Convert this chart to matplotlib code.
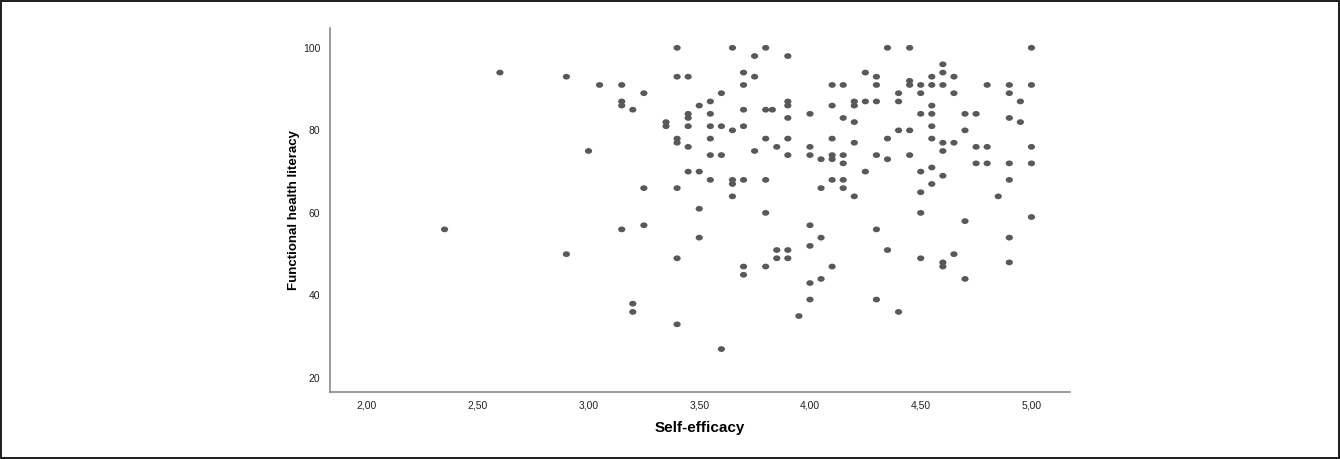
import matplotlib
matplotlib.use("Agg")
import matplotlib.pyplot as plt
from matplotlib.path import Path

plt.rcParams['font.family'] = ['Liberation Sans', 'DejaVu Sans']

self_efficacy = [
    2.35, 2.60, 2.90, 2.90, 3.00, 3.05, 3.15, 3.15, 3.15, 3.15,
    3.20, 3.20, 3.20, 3.25, 3.25, 3.25, 3.35, 3.35, 3.40, 3.40,
    3.40, 3.40, 3.40, 3.40, 3.40, 3.45, 3.45, 3.45, 3.45, 3.45,
    3.45, 3.50, 3.50, 3.50, 3.50, 3.55, 3.55, 3.55, 3.55, 3.55,
    3.55, 3.60, 3.60, 3.60, 3.60, 3.65, 3.65, 3.65, 3.65, 3.65,
    3.70, 3.70, 3.70, 3.70, 3.70, 3.70, 3.70, 3.75, 3.75, 3.75,
    3.80, 3.80, 3.80, 3.80, 3.80, 3.80, 3.83, 3.85, 3.85, 3.85,
    3.90, 3.90, 3.90, 3.90, 3.90, 3.90, 3.90, 3.90, 3.95, 4.00,
    4.00, 4.00, 4.00, 4.00, 4.00, 4.00, 4.05, 4.05, 4.05, 4.05,
    4.10, 4.10, 4.10, 4.10, 4.10, 4.10, 4.10, 4.15, 4.15, 4.15,
    4.15, 4.15, 4.15, 4.20, 4.20, 4.20, 4.20, 4.20, 4.25, 4.25,
    4.25, 4.30, 4.30, 4.30, 4.30, 4.30, 4.30, 4.35, 4.35, 4.35,
    4.35, 4.40, 4.40, 4.40, 4.40, 4.45, 4.45, 4.45, 4.45, 4.45,
    4.50, 4.50, 4.50, 4.50, 4.50, 4.50, 4.50, 4.55, 4.55, 4.55,
    4.55, 4.55, 4.55, 4.55, 4.55, 4.60, 4.60, 4.60, 4.60, 4.60,
    4.60, 4.60, 4.60, 4.65, 4.65, 4.65, 4.65, 4.70, 4.70, 4.70,
    4.70, 4.75, 4.75, 4.75, 4.80, 4.80, 4.80, 4.85, 4.90, 4.90,
    4.90, 4.90, 4.90, 4.90, 4.90, 4.95, 4.95, 5.00, 5.00, 5.00,
    5.00, 5.00,
]
health_literacy = [
    56, 94, 93, 50, 75, 91, 91, 87, 86, 56,
    85, 38, 36, 89, 66, 57, 82, 81, 100, 93,
    78, 77, 66, 49, 33, 93, 84, 83, 81, 76,
    70, 86, 70, 61, 54, 87, 84, 81, 78, 74,
    68, 89, 81, 74, 27, 100, 80, 68, 67, 64,
    94, 91, 85, 81, 68, 47, 45, 98, 93, 75,
    100, 85, 78, 68, 60, 47, 85, 76, 51, 49,
    98, 87, 86, 83, 78, 74, 51, 49, 35, 84,
    76, 74, 57, 52, 43, 39, 73, 66, 54, 44,
    91, 86, 78, 74, 73, 68, 47, 91, 83, 74,
    72, 68, 66, 87, 86, 82, 77, 64, 94, 87,
    70, 93, 91, 87, 74, 56, 39, 100, 78, 73,
    51, 89, 87, 80, 36, 100, 92, 91, 80, 74,
    91, 89, 84, 70, 65, 60, 49, 93, 91, 86,
    84, 81, 78, 71, 67, 96, 94, 91, 77, 75,
    69, 48, 47, 93, 89, 77, 50, 84, 80, 58,
    44, 84, 76, 72, 91, 76, 72, 64, 91, 89,
    83, 72, 68, 54, 48, 87, 82, 100, 91, 76,
    72, 59,
]

x_ticks = [2.0, 2.5, 3.0, 3.5, 4.0, 4.5, 5.0]
x_labels = ["2,00", "2,50", "3,00", "3,50", "4,00", "4,50", "5,00"]
y_ticks = [20, 40, 60, 80, 100]

# the original picture is a little stretched sideways, so the dots are flat ellipses
circle = Path.unit_circle()
ellipse = Path(circle.vertices * [1.0, 0.8], circle.codes)

fig = plt.figure(figsize=(13.4, 4.59), dpi=100)
fig.patch.set_edgecolor('#222222')
fig.patch.set_linewidth(1.5)
ax = fig.add_axes([0.2463, 0.146, 0.5522, 0.793])

ax.scatter(self_efficacy, health_literacy, s=27, marker=ellipse,
           color='#595959', edgecolors='none', zorder=3)

ax.set_xlim(1.833, 5.174)
ax.set_ylim(16.6, 104.8)
ax.set_xticks(x_ticks)
ax.set_xticklabels(x_labels)
ax.set_yticks(y_ticks)
ax.tick_params(length=0, labelsize=7.5, colors='#222222')
ax.tick_params(axis='x', pad=6)
ax.tick_params(axis='y', pad=7)

for side in ['top', 'right']:
    ax.spines[side].set_visible(False)
for side in ['left', 'bottom']:
    ax.spines[side].set_color('#8a8a8a')
    ax.spines[side].set_linewidth(1.2)

ax.set_xlabel('Self-efficacy', fontsize=11, fontweight='bold', labelpad=8)
ax.set_ylabel('Functional health literacy', fontsize=9.5, fontweight='bold', labelpad=2)

fig.savefig('out.png', dpi=100)
